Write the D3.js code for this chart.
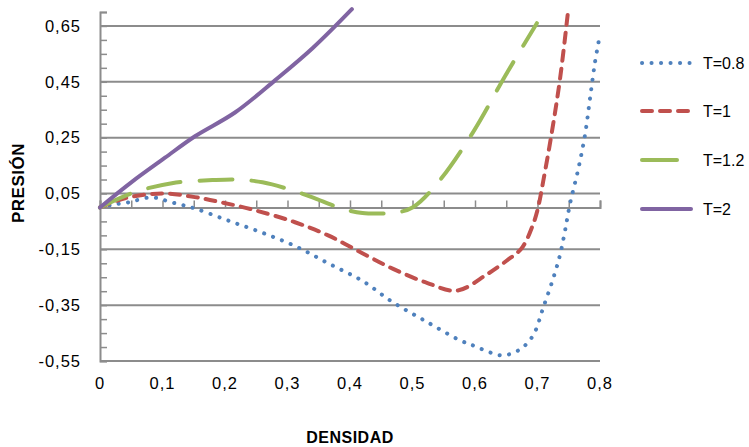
<!DOCTYPE html>
<html>
<head>
<meta charset="utf-8">
<script src="https://cdn.jsdelivr.net/npm/d3@7"></script>
<style>
  body { margin: 0; background: #fff; }
  svg text { font-family: "Liberation Sans", Arial, sans-serif; fill: #000; }
</style>
</head>
<body>
<div id="chart"></div>
<script>
// T = 0.8
const rho08 = [0, 0.02, 0.045, 0.083, 0.115, 0.152, 0.205, 0.259, 0.312, 0.365, 0.419, 0.469, 0.523, 0.576, 0.6, 0.625, 0.645, 0.667, 0.682, 0.695, 0.709, 0.725, 0.736, 0.744, 0.752, 0.765, 0.776, 0.784, 0.792, 0.8];
const p08   = [0, 0.01, 0.018, 0.036, 0.018, -0.004, -0.047, -0.09, -0.138, -0.2, -0.262, -0.34, -0.41, -0.476, -0.497, -0.52, -0.53, -0.515, -0.49, -0.45, -0.36, -0.255, -0.17, -0.084, 0.013, 0.135, 0.26, 0.39, 0.52, 0.62];
// T = 1
const rho1 = [0, 0.04, 0.1, 0.152, 0.195, 0.248, 0.312, 0.365, 0.419, 0.469, 0.523, 0.571, 0.619, 0.651, 0.675, 0.693, 0.701, 0.709, 0.723, 0.736, 0.749];
const p1   = [0, 0.033, 0.05, 0.037, 0.018, -0.01, -0.053, -0.1, -0.163, -0.22, -0.27, -0.298, -0.24, -0.19, -0.145, -0.06, 0, 0.092, 0.27, 0.46, 0.705];
// T = 1.2
const rho12 = [0, 0.056, 0.115, 0.18, 0.22, 0.26, 0.307, 0.34, 0.387, 0.42, 0.45, 0.47, 0.5, 0.541, 0.597, 0.648, 0.699];
const p12   = [0, 0.055, 0.087, 0.098, 0.1, 0.09, 0.062, 0.036, -0.004, -0.02, -0.022, -0.02, 0, 0.09, 0.27, 0.47, 0.66];
// T = 2
const rho2 = [0, 0.05, 0.104, 0.152, 0.216, 0.28, 0.34, 0.403];
const p2   = [0, 0.09, 0.178, 0.255, 0.34, 0.455, 0.57, 0.71];

const seriesNames = ["T=0.8", "T=1", "T=1.2", "T=2"];
const xTicks = [0, 0.1, 0.2, 0.3, 0.4, 0.5, 0.6, 0.7, 0.8];
const yTicks = [0.65, 0.45, 0.25, 0.05, -0.15, -0.35, -0.55];

const W = 749, H = 447;
const x = d3.scaleLinear().domain([0, 0.8]).range([100, 600]);
const y = d3.scaleLinear().domain([-0.55, 0.70]).range([361, 12]);

const svg = d3.select("#chart").append("svg").attr("width", W).attr("height", H);

const grey = "#8c8c8c";

// gridlines
svg.append("g").selectAll("line").data(yTicks).join("line")
  .attr("x1", x(0)).attr("x2", x(0.8))
  .attr("y1", d => y(d)).attr("y2", d => y(d))
  .attr("stroke", grey).attr("stroke-width", 2);

// y axis
const yMinor = d3.range(0, 26).map(i => -0.55 + i * 0.05);
const yAxis = d3.axisRight(y).tickValues(yMinor).tickSize(7).tickFormat("");
svg.append("g").attr("transform", `translate(${x(0)},0)`).call(yAxis)
  .call(g => g.selectAll("path").attr("stroke", grey).attr("stroke-width", 2))
  .call(g => g.selectAll("line").attr("stroke", grey).attr("stroke-width", 1.5));

// x axis at P = 0
const xMinor = d3.range(0, 17).map(i => i * 0.05);
const xAxis = d3.axisTop(x).tickValues(xMinor).tickSize(7).tickSizeOuter(7).tickFormat("");
svg.append("g").attr("transform", `translate(0,${y(0)})`).call(xAxis)
  .call(g => g.selectAll("path").attr("stroke", grey).attr("stroke-width", 2))
  .call(g => g.selectAll("line").attr("stroke", grey).attr("stroke-width", 1.5));

const comma = d3.formatLocale({decimal: ",", thousands: ".", grouping: [3], currency: ["", ""], minus: "-"});
const fmtY = comma.format(".2f");
const fmtX = v => v === 0 ? "0" : comma.format(".1f")(v);

svg.append("g").selectAll("text").data(yTicks).join("text")
  .attr("x", 81).attr("y", d => y(d)).attr("dy", "0.35em")
  .attr("text-anchor", "end").attr("font-size", 16.5).attr("letter-spacing", 1)
  .text(d => fmtY(d));

svg.append("g").selectAll("text").data(xTicks).join("text")
  .attr("x", d => x(d)).attr("y", 383).attr("dy", "0.35em")
  .attr("text-anchor", "middle").attr("font-size", 16.5).attr("letter-spacing", 1)
  .text(d => fmtX(d));

svg.append("text").attr("x", 350).attr("y", 437).attr("dy", "0.35em")
  .attr("text-anchor", "middle").attr("font-size", 16).attr("font-weight", "bold")
  .attr("letter-spacing", 0.5).text("DENSIDAD");

svg.append("text").attr("transform", "translate(18,183) rotate(-90)").attr("dy", "0.35em")
  .attr("text-anchor", "middle").attr("font-size", 17).attr("font-weight", "bold")
  .attr("letter-spacing", 0.5).text("PRESIÓN");

// series
const styles = [
  {color: "#4f81bd", dash: "0.1,9.4"},
  {color: "#c0504d", dash: "10,8"},
  {color: "#9bbb59", dash: "33,19"},
  {color: "#8064a2", dash: null}
];
const xs = [rho08, rho1, rho12, rho2];
const ys = [p08, p1, p12, p2];

const line = d3.line().x(d => x(d[0])).y(d => y(d[1])).curve(d3.curveCatmullRom.alpha(0.5));

seriesNames.forEach((name, i) => {
  const pts = xs[i].map((r, j) => [r, ys[i][j]]);
  svg.append("path").datum(pts).attr("d", line)
    .attr("fill", "none").attr("stroke", styles[i].color).attr("stroke-width", 4)
    .attr("stroke-linecap", "round").attr("stroke-linejoin", "round")
    .attr("stroke-dasharray", styles[i].dash);
});

// legend
const legendY = [63, 111, 160, 209];
const lg = svg.append("g").selectAll("g").data(seriesNames).join("g")
  .attr("transform", (d, i) => `translate(0,${legendY[i]})`);
lg.append("line").attr("x1", 642).attr("x2", (d, i) => i === 2 ? 677 : 691)
  .attr("stroke", (d, i) => styles[i].color).attr("stroke-width", 4)
  .attr("stroke-linecap", "round")
  .attr("stroke-dasharray", (d, i) => i === 2 ? null : styles[i].dash);
lg.append("text").attr("x", 703).attr("dy", "0.35em").attr("font-size", 16).text(d => d);
</script>
</body>
</html>
